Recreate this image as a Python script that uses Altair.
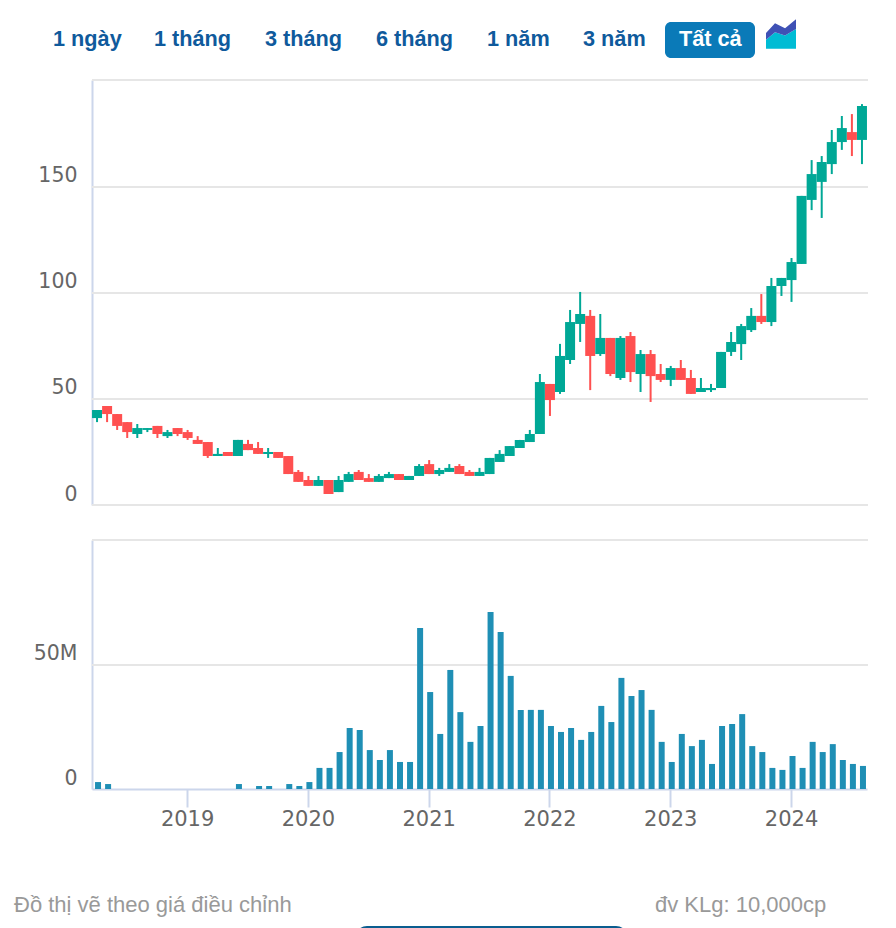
import altair as alt
import pandas as pd

# Months and labelled year ticks
years = list(range(2018, 2025))
months = [f"{y}-{m:02d}" for y in years for m in range(1, 13)]
months = months[months.index("2018-04"):months.index("2024-08") + 1]
year_ticks = ["2019-01", "2020-01", "2021-01", "2022-01", "2023-01", "2024-01"]

# Monthly candles
opens = [41.0, 46.7, 42.9, 39.1, 33.5, 35.4, 37.3, 32.5, 36.3, 34.4, 30.7, 29.7, 23.1, 25.0, 23.1, 28.8, 26.9, 24.1, 25.0, 23.1,
         15.6, 11.8, 9.0, 11.8, 6.1, 10.9, 15.6, 12.7, 10.9, 12.7, 14.6, 11.8, 13.7, 19.3, 14.6, 15.6, 18.4, 15.6, 13.7, 14.6,
         20.3, 23.1, 26.9, 29.7, 33.5, 57.1, 53.3, 68.4, 85.4, 89.2, 71.2, 78.8, 59.9, 79.7, 61.8, 71.2, 61.8, 59.0, 64.6, 59.9,
         53.3, 54.2, 55.2, 72.2, 75.9, 82.5, 89.2, 86.3, 103.3, 106.1, 113.7, 143.9, 152.4, 160.8, 171.2, 175.9, 172.2]
closes = [44.8, 42.9, 37.3, 34.4, 36.3, 36.3, 33.5, 34.4, 33.5, 31.6, 28.8, 23.1, 24.1, 23.1, 30.7, 25.9, 24.1, 25.0, 22.2, 14.6,
          10.9, 9.0, 11.8, 5.2, 11.8, 14.6, 11.8, 10.9, 13.7, 14.6, 11.8, 13.7, 18.4, 14.6, 16.5, 17.5, 14.6, 13.7, 15.6, 22.2,
          24.1, 27.8, 30.7, 33.5, 58.0, 49.5, 70.3, 86.3, 90.1, 70.3, 78.8, 61.8, 78.8, 62.7, 71.2, 60.8, 59.0, 64.6, 59.0, 52.4,
          55.2, 55.2, 72.2, 76.9, 84.4, 89.2, 86.3, 103.3, 107.1, 114.6, 145.8, 156.1, 161.8, 171.2, 177.8, 172.2, 188.2]
highs = [44.8, 46.7, 42.9, 39.1, 38.2, 36.3, 37.3, 35.4, 36.3, 35.4, 32.5, 29.7, 26.9, 25.0, 30.7, 30.7, 29.7, 26.9, 25.0, 23.1,
         16.5, 13.7, 13.7, 11.8, 13.7, 15.6, 16.5, 14.6, 14.6, 15.6, 14.6, 13.7, 19.3, 21.2, 17.5, 19.3, 19.3, 16.5, 17.5, 22.2,
         25.9, 27.8, 30.7, 35.4, 61.8, 57.1, 76.0, 92.0, 100.5, 92.0, 90.1, 78.8, 79.7, 81.6, 73.1, 73.1, 66.5, 65.6, 68.4, 63.7,
         59.9, 57.1, 72.2, 81.6, 85.4, 92.9, 99.5, 107.1, 107.1, 116.5, 145.8, 162.7, 164.6, 176.9, 183.5, 184.4, 189.1]
lows = [39.1, 39.1, 35.4, 31.6, 31.6, 34.4, 31.6, 31.6, 32.5, 30.7, 28.8, 22.2, 23.1, 23.1, 23.1, 25.9, 24.1, 22.2, 22.2, 14.6,
        10.9, 9.0, 9.0, 5.2, 6.1, 10.9, 11.8, 10.9, 10.9, 12.7, 11.8, 11.8, 13.7, 14.6, 13.7, 15.6, 14.6, 13.7, 13.7, 14.6,
        20.3, 23.1, 26.9, 29.7, 33.5, 42.0, 52.4, 66.5, 76.9, 54.2, 70.3, 60.8, 59.0, 58.0, 53.3, 48.6, 58.0, 56.1, 59.0, 52.4,
        53.3, 53.3, 55.2, 70.3, 68.4, 81.6, 85.4, 84.4, 98.6, 95.8, 113.7, 139.1, 135.4, 156.1, 167.5, 164.6, 160.8]

# Monthly volume, in millions of shares
volumes = [2.8, 2.0, 0, 0, 0, 0, 0, 0, 0, 0, 0, 0, 0, 0, 2.0, 0, 1.2, 1.2, 0, 2.0,
           1.2, 2.8, 8.5, 8.5, 14.9, 24.6, 23.8, 15.7, 11.7, 15.7, 10.9, 10.9, 64.9, 39.1, 22.2, 48.0, 31.0, 19.0, 25.4, 71.4,
           63.3, 45.6, 31.9, 31.9, 31.9, 25.4, 23.0, 24.6, 19.8, 23.0, 33.5, 27.0, 44.8, 37.5, 39.9, 31.9, 19.0, 10.9, 22.2, 17.3,
           19.8, 10.1, 25.4, 26.2, 30.2, 17.3, 14.9, 8.5, 7.7, 13.3, 8.5, 19.0, 14.9, 18.1, 11.7, 10.1, 9.3]

# Page text
tab_labels = ["1 ngày", "1 tháng", "3 tháng", "6 tháng", "1 năm", "3 năm"]
tab_x = [45, 146, 257, 368, 479, 575]
active_label = "Tất cả"
note_left = "Đồ thị vẽ theo giá điều chỉnh"
note_right = "đv KLg: 10,000cp"

# Axis values
price_ticks = [0, 50, 100, 150]
price_top = 200.47
volume_ticks = [0, 50]
volume_top = 100.4

UP, DOWN = "#00A896", "#FF5050"
GRID, AXIS, LABEL = "#E6E6E6", "#CCD6EB", "#666666"
VOL = "#1F8FB5"
NAVY = "#0F5A9C"
SANS = "Liberation Sans"
AXFONT = "DejaVu Sans"

df = pd.DataFrame({"month": months, "open": opens, "close": closes, "high": highs, "low": lows, "vol": volumes})
df["dir"] = ["up" if c >= o else "down" for o, c in zip(opens, closes)]

x_scale = alt.Scale(domain=months, range=[84, 859], paddingInner=0, paddingOuter=0)
x_plain = alt.X("month:N", scale=x_scale, axis=None)
price_scale = alt.Scale(domain=[0, price_top], range=[497, 72], nice=False, zero=False)
vol_scale = alt.Scale(domain=[0, volume_top], range=[781, 532], nice=False, zero=False)
colors = alt.Color("dir:N", scale=alt.Scale(domain=["up", "down"], range=[UP, DOWN]), legend=None)


def one():
    return alt.Chart(pd.DataFrame({"a": [0]}))


def label(text, x, y, size, color, align="left", weight="normal", font=SANS):
    return one().mark_text(text=text, align=align, baseline="middle", fontSize=size,
                           color=color, fontWeight=weight, font=font).encode(
        x=alt.value(x), y=alt.value(y))


price_axis = alt.Axis(orient="left", offset=-84, values=price_ticks, format="d", title=None, grid=False,
                      ticks=False, domain=True, domainColor=AXIS, domainWidth=2, labelFontSize=20.5,
                      labelColor=LABEL, labelFont=AXFONT, labelPadding=15, labelBaseline="alphabetic", labelOffset=-5)
price_grid = alt.Chart(pd.DataFrame({"v": price_ticks + [price_top]})).mark_rule(color=GRID, strokeWidth=2).encode(
    x=alt.value(84), x2=alt.value(860),
    y=alt.Y("v:Q", scale=price_scale, axis=price_axis))
wicks = alt.Chart(df).mark_rule(strokeWidth=2).encode(
    x=x_plain, y=alt.Y("low:Q", scale=price_scale, axis=None), y2="high:Q", color=colors)
bodies = alt.Chart(df).mark_bar(width=10).encode(
    x=x_plain, y=alt.Y("open:Q", scale=price_scale, axis=None), y2="close:Q", color=colors)

vol_axis = alt.Axis(orient="left", offset=-84, values=volume_ticks,
                    labelExpr="datum.value == 0 ? '0' : datum.value + 'M'", title=None, grid=False,
                    ticks=False, domain=True, domainColor=AXIS, domainWidth=2, labelFontSize=20.5,
                    labelColor=LABEL, labelFont=AXFONT, labelPadding=15, labelBaseline="alphabetic", labelOffset=-5)
vol_grid = alt.Chart(pd.DataFrame({"v": [volume_ticks[1], volume_top]})).mark_rule(color=GRID, strokeWidth=2).encode(
    x=alt.value(84), x2=alt.value(860),
    y=alt.Y("v:Q", scale=vol_scale, axis=vol_axis))
x_axis = alt.Axis(orient="bottom", offset=-139, values=year_ticks, labelExpr="slice(datum.value, 0, 4)", title=None,
                  grid=False, tickSize=18, tickWidth=2, tickColor=AXIS, domainColor=AXIS, domainWidth=2,
                  labelFontSize=21, labelColor=LABEL, labelFont=AXFONT, labelPadding=1, labelAngle=0)
vol_bars = alt.Chart(df).mark_bar(width=6, color=VOL, xOffset=1).encode(
    x=alt.X("month:N", scale=x_scale, axis=x_axis),
    y=alt.Y("vol:Q", scale=vol_scale, axis=None))

tabs = [label(t, x, 31, 21.7, NAVY, weight="bold") for t, x in zip(tab_labels, tab_x)]
button = one().mark_rect(color="#0A7AB8", cornerRadius=6).encode(
    x=alt.value(657), x2=alt.value(747), y=alt.value(14), y2=alt.value(50))
active = label(active_label, 671, 31, 21.7, "#FFFFFF", weight="bold")

ICON_DARK = "M-1 -0.06 L-0.4 -0.72 L0.27 -0.39 L1 -0.99 L1 -0.34 L0.27 0.1 L-0.4 -0.12 L-1 0.39 Z"
ICON_LIGHT = "M-1 0.39 L-0.4 -0.12 L0.27 0.1 L1 -0.34 L1 0.99 L-1 0.99 Z"
icon_dark = one().mark_point(shape=ICON_DARK, size=900, filled=True, opacity=1, color="#3F51B5").encode(
    x=alt.value(773), y=alt.value(26))
icon_light = one().mark_point(shape=ICON_LIGHT, size=900, filled=True, opacity=1, color="#00BCD4").encode(
    x=alt.value(773), y=alt.value(26))

foot_left = label(note_left, 6, 897, 22, "#999999")
foot_right = label(note_right, 647, 897, 22, "#999999")
bottom_button = one().mark_rect(color="#0A5D8F", cornerRadius=12).encode(
    x=alt.value(347), x2=alt.value(620), y=alt.value(918), y2=alt.value(950))

chart = alt.layer(
    price_grid, wicks, bodies, vol_grid, vol_bars,
    *tabs, button, active, icon_light, icon_dark, foot_left, foot_right, bottom_button
).resolve_scale(y="independent").resolve_axis(x="independent", y="independent").properties(
    width=880, height=920, padding=0, autosize=alt.AutoSizeParams(type="none"), background="white"
).configure_view(stroke=None)

chart.save("out.html", embed_options={"renderer": "svg", "actions": False})
